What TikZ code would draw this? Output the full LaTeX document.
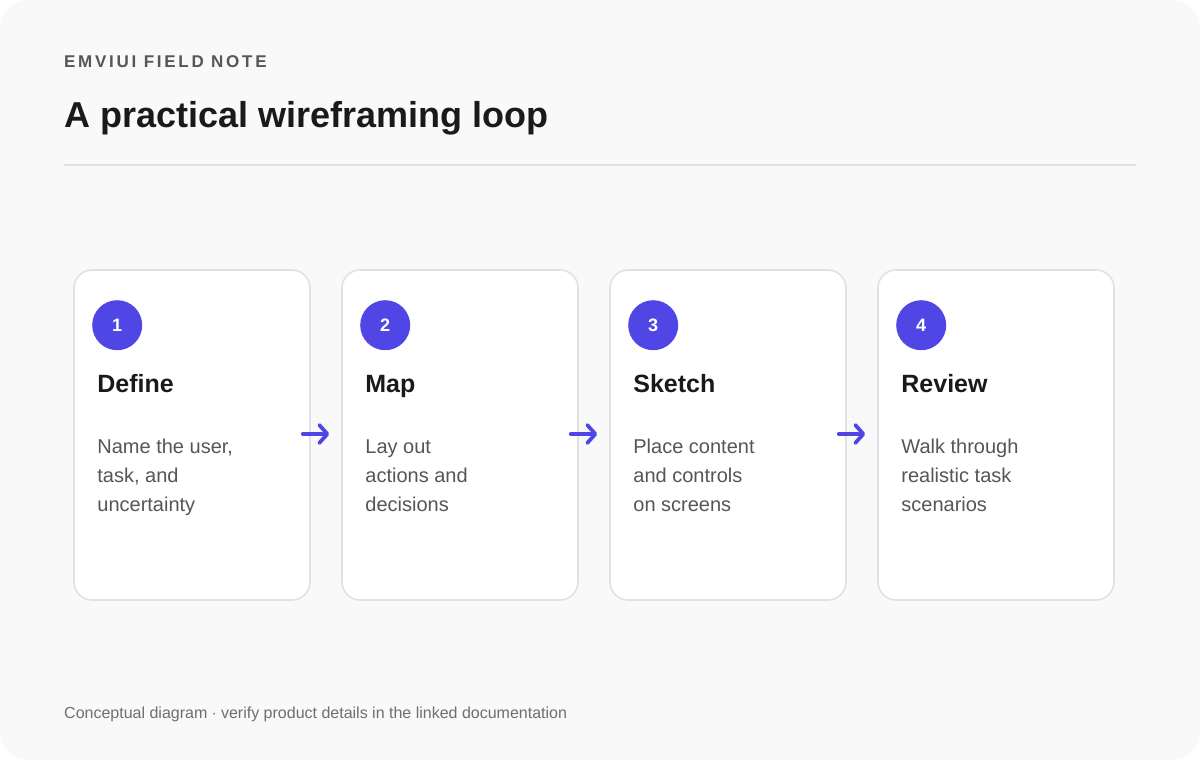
\documentclass[tikz,border=0pt]{standalone}
\usepackage{fontspec}
\setmainfont{Liberation Sans}
\newfontfamily\kickerfont[LetterSpace=16]{Liberation Sans}
\usetikzlibrary{arrows.meta,positioning}

\definecolor{pagebg}{HTML}{F9F9FA}
\definecolor{cardline}{HTML}{E1E1E3}
\definecolor{indigo}{HTML}{4F46E5}
\definecolor{ink}{HTML}{1A1A1A}
\definecolor{muted}{HTML}{55555A}
\definecolor{faint}{HTML}{6E6E73}

\tikzset{
  kicker/.style={anchor=base west, inner sep=0pt, text=muted, font=\kickerfont\bfseries\fontsize{17}{17}\selectfont},
  headline/.style={anchor=base west, inner sep=0pt, text=ink, font=\bfseries\fontsize{36}{36}\selectfont},
  card/.style={draw=cardline, line width=1.6pt, fill=white, rounded corners=18pt,
    minimum width=236pt, minimum height=330pt, inner sep=0pt},
  badge/.style={circle, fill=indigo, minimum size=50pt, inner sep=0pt, text=white,
    font=\bfseries\fontsize{18}{18}\selectfont},
  steptitle/.style={anchor=base west, inner sep=0pt, text=ink, font=\bfseries\fontsize{25}{25}\selectfont},
  stepbody/.style={anchor=base west, inner sep=0pt, align=left, text=muted, font=\fontsize{20}{29}\selectfont},
  flow/.style={-{Straight Barb[length=8pt,width=18pt,round]}, line width=3.8pt, indigo, line cap=round},
  footnote/.style={anchor=base west, inner sep=0pt, text=faint, font=\fontsize{16}{16}\selectfont},
}

\begin{document}
\begin{tikzpicture}[x=1pt,y=-1pt]
\useasboundingbox (0,0) rectangle (1200,760);
\fill[white] (0,0) rectangle (1200,760);
\fill[pagebg, rounded corners=28pt] (0,0) rectangle (1200,760);

% header
\node[kicker] (kicker) at (64,68) {EMVIUI FIELD NOTE};
\node[headline] (headline) at (64,127) {A practical wireframing loop};
\draw[cardline, line width=1.6pt] (64,165) -- (1136,165);

% the four steps (body anchor = baseline of its last line)
\foreach \i/\name/\body in {1/Define/{Name the user,\\task, and\\uncertainty},
                            2/Map/{Lay out\\actions and\\decisions},
                            3/Sketch/{Place content\\and controls\\on screens},
                            4/Review/{Walk through\\realistic task\\scenarios}} {
  \node[card] (card\i) at ({192+268*(\i-1)},435) {};
  \node[badge] (badge\i) at ([shift={(44pt,-56pt)}]card\i.north west) {\i};
  \node[steptitle] (title\i) at ([shift={(24pt,-123pt)}]card\i.north west) {\name};
  \node[stepbody] (body\i) at ([shift={(24pt,-242pt)}]card\i.north west) {\body};
}

% arrows between cards
\draw[flow] ([xshift=-8pt,yshift=1pt]card1.east) -- ([xshift=-12pt,yshift=1pt]card2.west);
\draw[flow] ([xshift=-8pt,yshift=1pt]card2.east) -- ([xshift=-12pt,yshift=1pt]card3.west);
\draw[flow] ([xshift=-8pt,yshift=1pt]card3.east) -- ([xshift=-12pt,yshift=1pt]card4.west);

\node[footnote] (footer) at (64,718) {Conceptual diagram $\cdot$ verify product details in the linked documentation};
\end{tikzpicture}
\end{document}
